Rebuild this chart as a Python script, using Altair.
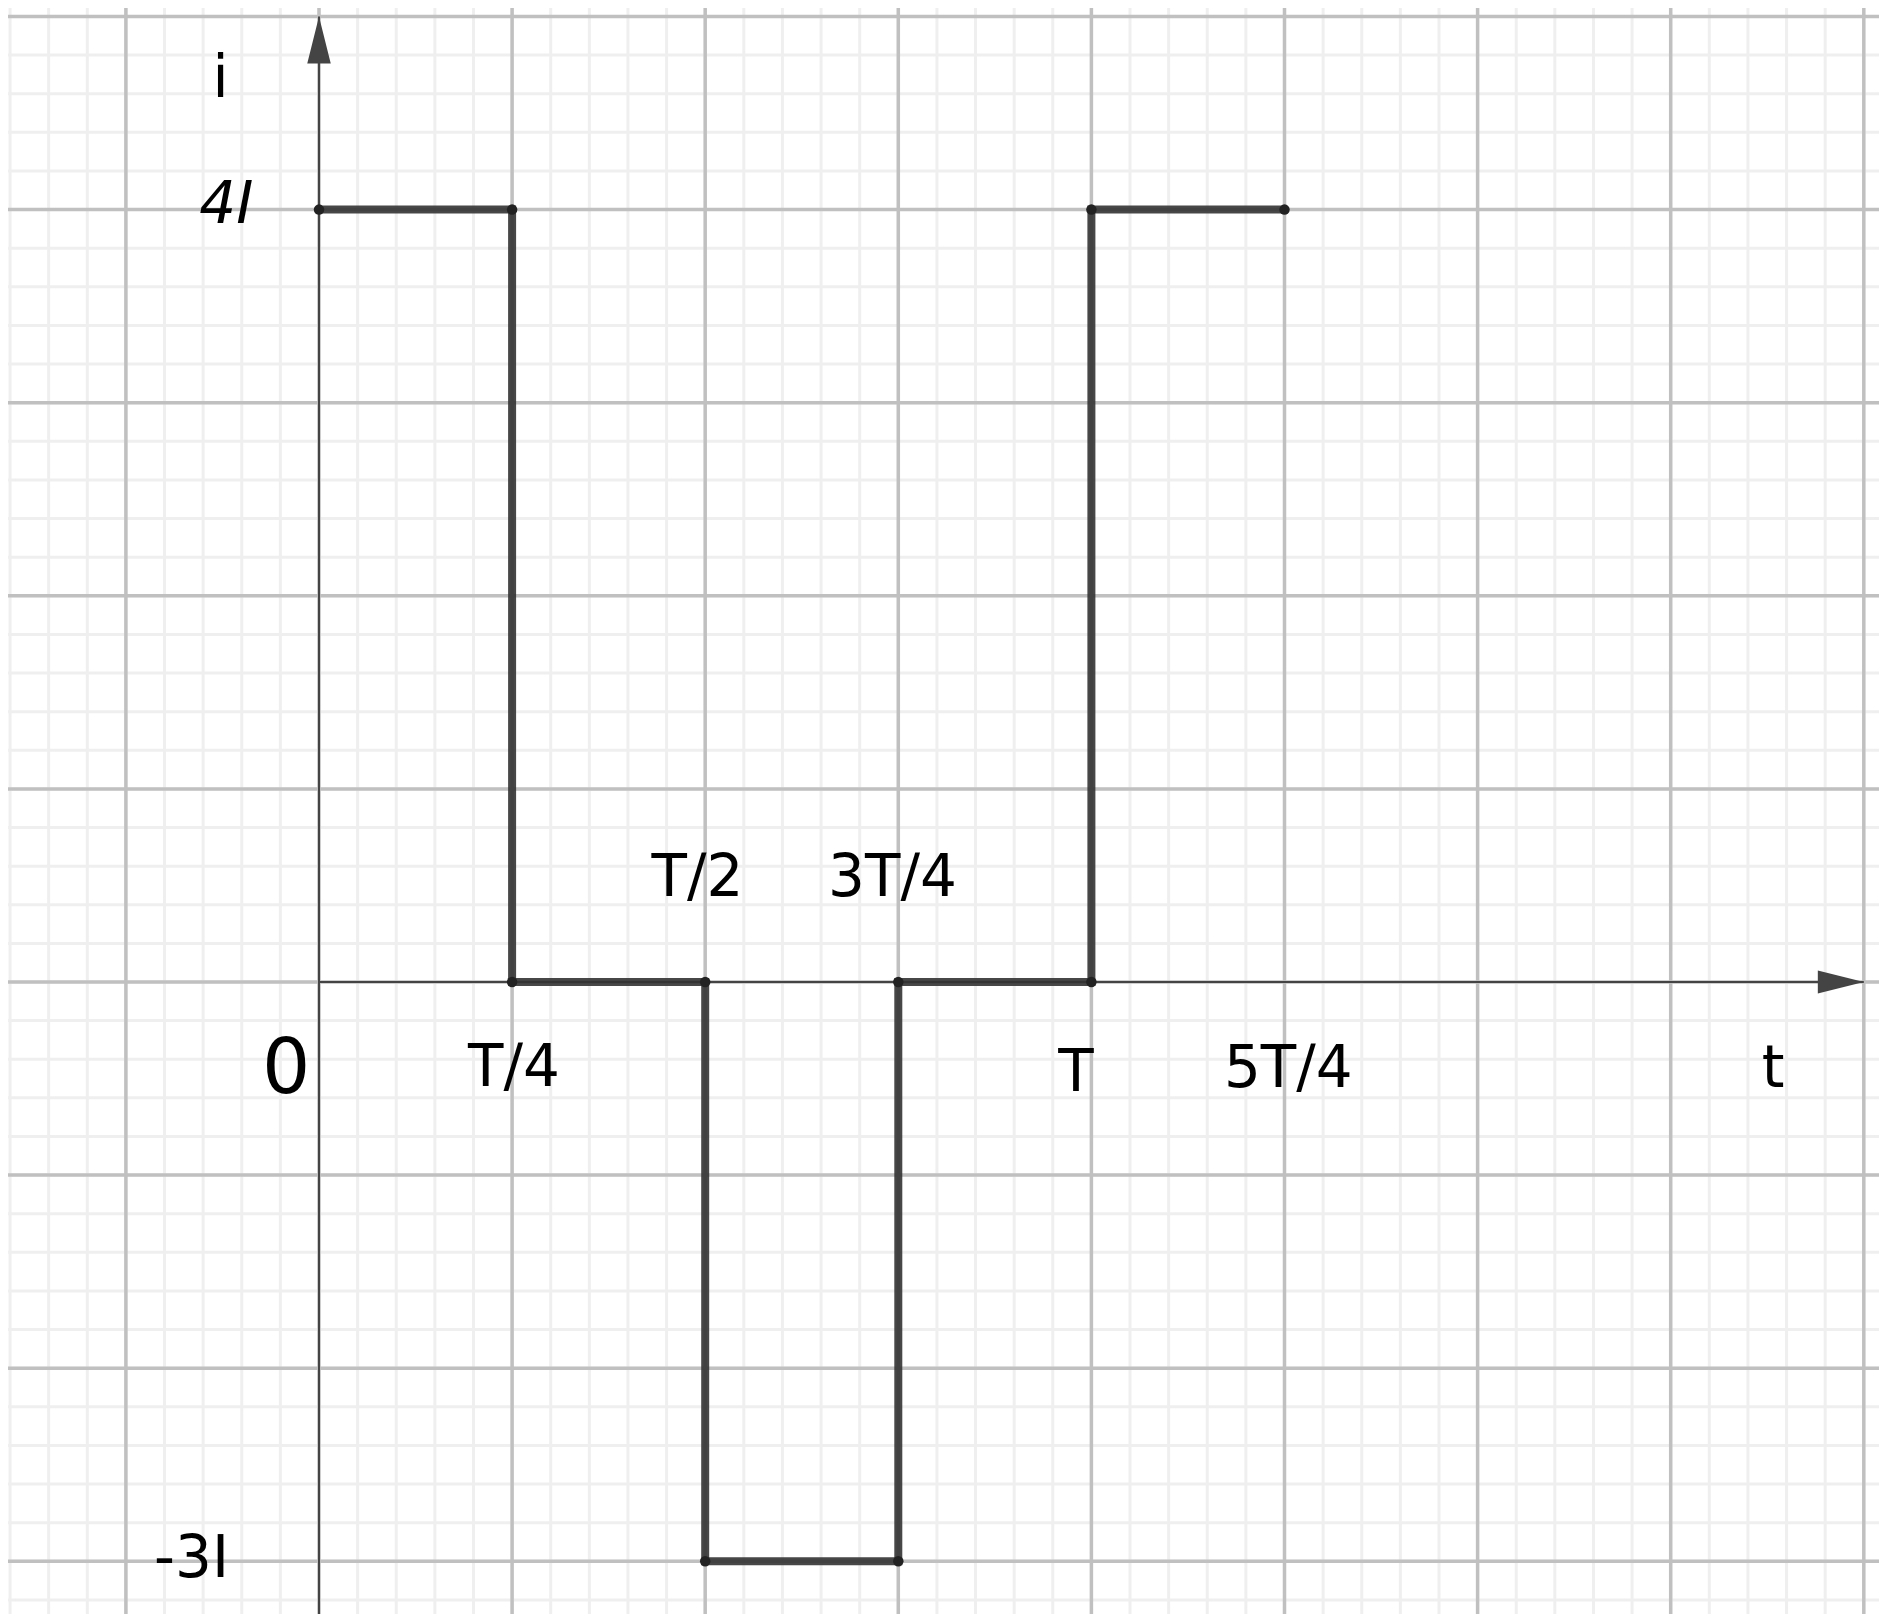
import altair as alt
import pandas as pd
import numpy as np

# ---- data ----
t_vals = [0, 1, 1, 2, 2, 3, 3, 4, 4, 5]          # time in units of T/4
i_vals = [4, 4, 0, 0, -3, -3, 0, 0, 4, 4]        # current in units of I

tick_text = ["T/4", "T/2", "3T/4", "T", "5T/4", "t", "i", "-3I"]
tick_x = [1.01, 1.96, 2.97, 3.92, 5.02, 7.53, -0.51, -0.66]
tick_y = [-0.54, 0.446, 0.446, -0.565, -0.544, -0.544, 4.585, -3.083]

italic_text = ["4I"]
italic_x = [-0.48]
italic_y = [3.933]

origin_text = ["0"]
origin_x = [-0.17]
origin_y = [-0.575]

# ---- layout ----
W, H = 1871, 1606
UNIT = 193.1
X0, Y0 = 319 - 8, 982 - 8   # origin inside plot area
x_dom = [-X0 / UNIT, (W - X0) / UNIT]
y_dom = [-(H - Y0) / UNIT, Y0 / UNIT]

xs = alt.Scale(domain=x_dom, nice=False, zero=False)
ys = alt.Scale(domain=y_dom, nice=False, zero=False)

minor = [round(v * 0.2, 1) for v in range(-9, 42)]
minor_y = [round(v * 0.2, 1) for v in range(-17, 27)]
major_x = list(range(-1, 9))
major_y = list(range(-3, 6))

def vrules(vals, color, width):
    return alt.Chart(pd.DataFrame({"v": vals})).mark_rule(
        color=color, strokeWidth=width, clip=True
    ).encode(x=alt.X("v:Q", scale=xs, axis=None))

def hrules(vals, color, width):
    return alt.Chart(pd.DataFrame({"v": vals})).mark_rule(
        color=color, strokeWidth=width, clip=True
    ).encode(y=alt.Y("v:Q", scale=ys, axis=None))

minor_v = vrules(minor, "#efefef", 3)
minor_h = hrules(minor_y, "#efefef", 3)
major_v = vrules(major_x, "#c0c0c0", 3.5)
major_h = hrules(major_y, "#c0c0c0", 3.5)

axes_df = pd.DataFrame({
    "x": [0, 0], "x2": [0, 8], "y": [y_dom[0], 0], "y2": [5, 0]
})
axes = alt.Chart(axes_df).mark_rule(color="#444444", strokeWidth=2, clip=True).encode(
    x=alt.X("x:Q", scale=xs, axis=None), x2="x2:Q",
    y=alt.Y("y:Q", scale=ys, axis=None), y2="y2:Q",
)

arrow_up = alt.Chart(pd.DataFrame({"x": [0], "y": [5]})).mark_point(
    shape="M0,0L0.5,2L-0.5,2Z", size=2209, filled=True, opacity=1,
    color="#444444", strokeWidth=0
).encode(x=alt.X("x:Q", scale=xs, axis=None), y=alt.Y("y:Q", scale=ys, axis=None))

arrow_right = alt.Chart(pd.DataFrame({"x": [8], "y": [0]})).mark_point(
    shape="M0,0L-2,-0.5L-2,0.5Z", size=2116, filled=True, opacity=1,
    color="#444444", strokeWidth=0
).encode(x=alt.X("x:Q", scale=xs, axis=None), y=alt.Y("y:Q", scale=ys, axis=None))

wave_df = pd.DataFrame({"t": t_vals, "i": i_vals, "k": list(range(len(t_vals)))})
wave = alt.Chart(wave_df).mark_line(
    color="#333333", strokeWidth=8, opacity=0.9, strokeJoin="miter"
).encode(
    x=alt.X("t:Q", scale=xs, axis=None),
    y=alt.Y("i:Q", scale=ys, axis=None),
    order="k:Q",
)
dots = alt.Chart(wave_df).mark_circle(color="#222222", size=110, opacity=1).encode(
    x=alt.X("t:Q", scale=xs, axis=None),
    y=alt.Y("i:Q", scale=ys, axis=None),
)

def text_layer(texts, xv, yv, size, style="normal"):
    df = pd.DataFrame({"s": texts, "x": xv, "y": yv})
    return alt.Chart(df).mark_text(
        font="DejaVu Sans", fontSize=size, fontStyle=style, color="black",
        align="center", baseline="alphabetic"
    ).encode(
        x=alt.X("x:Q", scale=xs, axis=None),
        y=alt.Y("y:Q", scale=ys, axis=None),
        text="s:N",
    )

labels = text_layer(tick_text, tick_x, tick_y, 58)
labels_it = text_layer(italic_text, italic_x, italic_y, 58, "italic")
labels_0 = text_layer(origin_text, origin_x, origin_y, 76)

chart = alt.layer(
    minor_v, minor_h, major_v, major_h, axes, arrow_up, arrow_right,
    wave, dots, labels, labels_it, labels_0
).properties(
    width=W, height=H, autosize="none", padding=0
).configure_view(stroke=None)

chart.save("out.html", embed_options={"renderer": "svg", "actions": False})
